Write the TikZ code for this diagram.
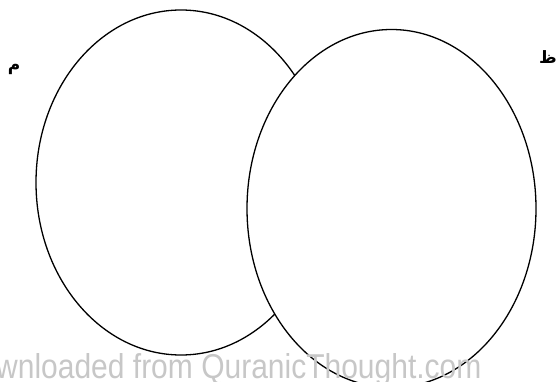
\documentclass[tikz,border=0pt]{standalone}
\usepackage{fontspec}
\setmainfont{Liberation Sans}
\newfontfamily\arabicfont[Script=Arabic]{DejaVu Sans}
\TeXXeTstate=1
\usetikzlibrary{shapes.geometric}
\begin{document}
\begin{tikzpicture}[x=1pt,y=-1pt,
  venn/.style={draw=black,line width=1.3pt,fill=white,ellipse,inner sep=0pt},
  arlabel/.style={font=\arabicfont\bfseries\fontsize{17}{17}\selectfont,inner sep=0pt},
  wm/.style={font=\fontsize{30}{30}\selectfont,text=black!22,inner sep=0pt,anchor=base west,yscale=1.15}]
\useasboundingbox (0,0) rectangle (556,382);
\clip (0,0) rectangle (556,382);
\node[venn,minimum width=290pt,minimum height=345pt] (L) at (181,182.5) {};
\node[venn,minimum width=289pt,minimum height=358pt] (R) at (391.5,208.5) {};
\node[arlabel] (m) at (14,69) {\beginR م\endR};
\node[arlabel] (z) at (548,57) {\beginR ظ\endR};
\node[wm] (w) at (-4,378) {wnloaded from QuranicThought.com};
\end{tikzpicture}
\end{document}
